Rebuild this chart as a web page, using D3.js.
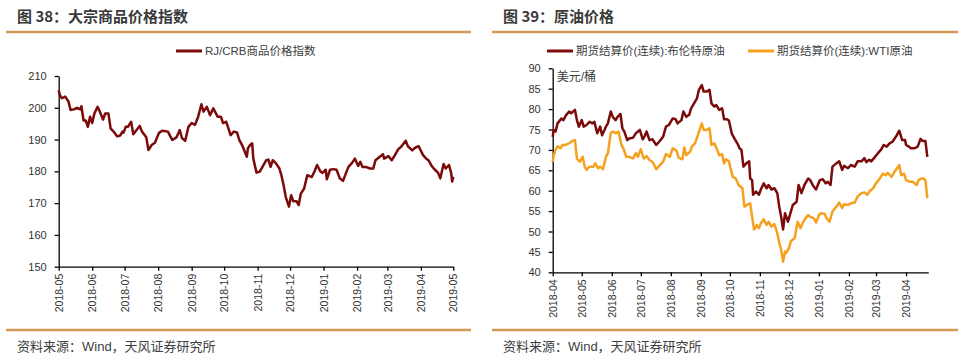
<!DOCTYPE html>
<meta charset="utf-8">
<style>
body { margin: 0; background: #fff; }
svg { display: block; font-family: "Liberation Sans", Arial, "Noto Sans CJK SC", sans-serif; }
.title { font-family: "Noto Sans CJK SC", sans-serif; font-size: 15px; font-weight: bold; fill: #3a3a3a; }
.legend, .unit, .source { font-family: "Liberation Sans", "Noto Sans CJK SC", sans-serif; fill: #404040; }
.axis text { font-size: 10.5px; fill: #333; }
.axis path, .axis line { stroke: #000; stroke-width: 1.3px; }
.rule { stroke: #d49a55; stroke-width: 2.5px; }
</style>
<body>
<svg id="chart" width="968" height="361"></svg>
<script src="https://d3js.org/d3.v7.min.js"></script>
<script>

// ---- 图 38：RJ/CRB 商品价格指数 ----
var crbDates = ["2018-05-01","2018-05-02","2018-05-04","2018-05-07","2018-05-10","2018-05-12","2018-05-15","2018-05-18","2018-05-21","2018-05-22",
  "2018-05-24","2018-05-26","2018-05-28","2018-05-30","2018-06-01","2018-06-03","2018-06-06","2018-06-08","2018-06-11","2018-06-13",
  "2018-06-16","2018-06-18","2018-06-22","2018-06-24","2018-06-27","2018-06-29","2018-06-30","2018-07-02","2018-07-04","2018-07-07",
  "2018-07-09","2018-07-12","2018-07-15","2018-07-17","2018-07-21","2018-07-23","2018-07-26","2018-07-29","2018-07-31","2018-08-02",
  "2018-08-05","2018-08-10","2018-08-14","2018-08-18","2018-08-21","2018-08-23","2018-08-26","2018-08-29","2018-09-01","2018-09-04",
  "2018-09-07","2018-09-10","2018-09-12","2018-09-15","2018-09-18","2018-09-21","2018-09-25","2018-09-28","2018-09-30","2018-10-03",
  "2018-10-07","2018-10-10","2018-10-13","2018-10-15","2018-10-18","2018-10-22","2018-10-23","2018-10-25","2018-10-27","2018-10-28",
  "2018-10-31","2018-11-03","2018-11-06","2018-11-09","2018-11-11","2018-11-13","2018-11-15","2018-11-18","2018-11-21","2018-11-23",
  "2018-11-25","2018-11-27","2018-11-30","2018-12-02","2018-12-04","2018-12-07","2018-12-09","2018-12-11","2018-12-14","2018-12-17",
  "2018-12-21","2018-12-23","2018-12-26","2018-12-29","2018-12-31","2019-01-03","2019-01-04","2019-01-07","2019-01-10","2019-01-13",
  "2019-01-16","2019-01-19","2019-01-21","2019-01-24","2019-01-27","2019-01-30","2019-02-02","2019-02-04","2019-02-06","2019-02-09",
  "2019-02-13","2019-02-16","2019-02-18","2019-02-22","2019-02-25","2019-02-26","2019-03-02","2019-03-05","2019-03-08","2019-03-11",
  "2019-03-14","2019-03-18","2019-03-20","2019-03-24","2019-03-27","2019-03-30","2019-04-03","2019-04-06","2019-04-08","2019-04-11",
  "2019-04-14","2019-04-17","2019-04-19","2019-04-22","2019-04-24","2019-04-27","2019-04-29","2019-04-30","2019-05-01"];
var crbValues = [205.5,204,203,203.5,202,199.3,199.5,200,199.5,200.5,
  196,196,194,197.2,195.2,198.2,200.3,198.8,196.3,198.2,
  198.2,193.5,192,191,191.3,192.5,192.2,194,194,195.6,
  191.7,193,194.3,192.5,190.7,186.7,188.3,189,190.7,192.2,
  192.8,192.5,189.9,190.7,193,190.5,189.6,194,195.2,194.6,
  197.2,201.1,198.8,200.3,197.7,199.8,197.2,197.2,195.2,195.6,
  191.4,192.5,192.2,189.9,188,184.6,187.2,188.3,188.8,184,
  179.6,179.9,181.7,183.5,183.7,181.4,183.5,182.5,181,178.8,
  175.7,172,168.9,172.5,170.6,170.6,169.4,173,174.6,178.8,
  178.2,179.5,182,180,179.5,180.5,177.5,180.5,180.7,180.5,
  177.8,177,178.8,181.4,182.5,184,181.7,183,181.4,181.4,
  180.9,180.9,183.5,184.6,185.4,184,184.8,183.5,185.1,186.9,
  187.8,189.6,187.9,186.6,187.5,187.9,185.1,184,183.5,181.7,
  180.5,179.5,177.8,182.3,180.9,182,179.5,176.8,178.3];
var crbTicks = [150,160,170,180,190,200,210];

// ---- 图 39：原油价格 ----
var brentDates = ["2018-04-01","2018-04-02","2018-04-04","2018-04-06","2018-04-10","2018-04-12","2018-04-15","2018-04-18","2018-04-20","2018-04-24",
  "2018-04-26","2018-04-28","2018-05-01","2018-05-03","2018-05-06","2018-05-09","2018-05-12","2018-05-14","2018-05-17","2018-05-20",
  "2018-05-22","2018-05-26","2018-05-28","2018-05-31","2018-06-02","2018-06-05","2018-06-07","2018-06-10","2018-06-12","2018-06-14",
  "2018-06-17","2018-06-19","2018-06-23","2018-06-26","2018-06-30","2018-07-03","2018-07-05","2018-07-07","2018-07-10","2018-07-13",
  "2018-07-17","2018-07-20","2018-07-24","2018-07-27","2018-07-30","2018-08-03","2018-08-06","2018-08-08","2018-08-12","2018-08-14",
  "2018-08-17","2018-08-20","2018-08-22","2018-08-25","2018-08-28","2018-08-30","2018-09-02","2018-09-04","2018-09-07","2018-09-10",
  "2018-09-12","2018-09-15","2018-09-17","2018-09-20","2018-09-23","2018-09-25","2018-09-28","2018-09-30","2018-10-03","2018-10-06",
  "2018-10-09","2018-10-11","2018-10-13","2018-10-15","2018-10-18","2018-10-21","2018-10-22","2018-10-24","2018-10-25","2018-10-28",
  "2018-10-31","2018-11-02","2018-11-05","2018-11-08","2018-11-10","2018-11-13","2018-11-16","2018-11-19","2018-11-21","2018-11-23",
  "2018-11-25","2018-11-27","2018-11-30","2018-12-02","2018-12-05","2018-12-09","2018-12-11","2018-12-14","2018-12-17","2018-12-21",
  "2018-12-23","2018-12-26","2018-12-29","2019-01-02","2019-01-05","2019-01-08","2019-01-10","2019-01-13","2019-01-15","2019-01-19",
  "2019-01-22","2019-01-25","2019-01-27","2019-01-31","2019-02-03","2019-02-07","2019-02-10","2019-02-14","2019-02-17","2019-02-19",
  "2019-02-22","2019-02-24","2019-02-28","2019-03-03","2019-03-06","2019-03-09","2019-03-12","2019-03-15","2019-03-18","2019-03-22",
  "2019-03-25","2019-03-28","2019-03-31","2019-04-01","2019-04-04","2019-04-06","2019-04-10","2019-04-13","2019-04-16","2019-04-18",
  "2019-04-21","2019-04-23"];
var brentValues = [73.2,74.9,74.5,76.5,77.7,77.3,78.6,79.4,79,79.8,
  77.3,75.7,77.3,75.7,76.1,76.9,76.5,76.9,74.1,75.7,
  73.6,75.7,76.5,79.4,78.1,77.3,78.1,78.8,75.3,74.5,
  72.4,72.8,73,74.1,74.9,72.6,73.4,74.5,72.4,72.6,
  71.2,72,73.2,75.7,76.1,77.7,77.5,76.5,77.3,79.4,
  78.1,78.6,80.2,81.4,82.6,84.7,85.9,84.3,84.3,84.7,
  81.4,80.6,81,79.8,80.2,77.5,77.5,77.2,74,72.7,
  71.5,70.4,70,65.9,66.7,67.2,63,62.6,59,59.8,
  59,60.3,61.8,60.6,61.4,60.3,60.6,59.4,56.1,53.6,
  50.5,54.5,52.4,54,56.5,57.3,61.4,59.4,61.4,63,
  62.6,61.2,60.3,62.6,62.8,61.8,62.2,61.4,65.9,66.7,
  67.2,65.1,66.1,65.5,66.3,65.9,67.2,67.2,68,67,
  67.6,67.2,68.3,69.2,70,71.2,70.8,71.6,72,73.4,
  74.7,72.4,72.4,71.2,70.8,70.4,70.4,70.8,72.7,72.2,
  72.2,68.3];
var wtiDates = ["2018-04-01","2018-04-02","2018-04-04","2018-04-06","2018-04-09","2018-04-11","2018-04-14","2018-04-18","2018-04-21","2018-04-24",
  "2018-04-26","2018-04-29","2018-05-02","2018-05-04","2018-05-06","2018-05-09","2018-05-13","2018-05-15","2018-05-18","2018-05-20",
  "2018-05-23","2018-05-26","2018-05-28","2018-05-31","2018-06-02","2018-06-05","2018-06-08","2018-06-11","2018-06-13","2018-06-16",
  "2018-06-19","2018-06-23","2018-06-26","2018-06-28","2018-07-01","2018-07-04","2018-07-07","2018-07-10","2018-07-13","2018-07-17",
  "2018-07-20","2018-07-24","2018-07-27","2018-07-31","2018-08-03","2018-08-07","2018-08-09","2018-08-13","2018-08-15","2018-08-17",
  "2018-08-21","2018-08-23","2018-08-26","2018-08-29","2018-09-02","2018-09-04","2018-09-07","2018-09-10","2018-09-12","2018-09-15",
  "2018-09-18","2018-09-20","2018-09-23","2018-09-25","2018-09-27","2018-09-30","2018-10-04","2018-10-07","2018-10-10","2018-10-14",
  "2018-10-16","2018-10-20","2018-10-22","2018-10-24","2018-10-26","2018-10-29","2018-10-31","2018-11-02","2018-11-05","2018-11-08",
  "2018-11-10","2018-11-13","2018-11-16","2018-11-19","2018-11-21","2018-11-23","2018-11-25","2018-11-27","2018-11-28","2018-12-01",
  "2018-12-03","2018-12-07","2018-12-10","2018-12-13","2018-12-15","2018-12-18","2018-12-21","2018-12-23","2018-12-27","2018-12-29",
  "2019-01-01","2019-01-03","2019-01-07","2019-01-09","2019-01-12","2019-01-15","2019-01-19","2019-01-22","2019-01-25","2019-01-27",
  "2019-01-31","2019-02-03","2019-02-07","2019-02-10","2019-02-14","2019-02-17","2019-02-20","2019-02-22","2019-02-26","2019-03-01",
  "2019-03-05","2019-03-08","2019-03-11","2019-03-13","2019-03-17","2019-03-20","2019-03-25","2019-03-27","2019-03-30","2019-04-01",
  "2019-04-05","2019-04-08","2019-04-12","2019-04-14","2019-04-17","2019-04-19","2019-04-21","2019-04-23"];
var wtiValues = [67.1,68.7,70,70.9,70.4,71.2,71.2,71.6,72.2,72.4,
  67.9,67.1,68.3,65.9,65.1,65.9,65.9,66.7,65.5,65.9,
  65.3,68.3,69.2,74.1,74.5,74.1,74.5,71.2,70.4,68.3,
  68.3,67.9,69.2,68.3,70.2,67.9,68.5,67.5,67.1,65.3,
  66.1,67.1,69,68.3,70.4,69.8,68.1,67.7,70.6,68.7,
  69.6,70.9,71.6,73.6,76.5,74.9,74.9,75.3,71.2,71.6,
  70,68.7,68.9,66.7,67.7,67.2,63.4,63,61.4,60.6,
  56.1,56.7,56.9,53.6,50.5,51.6,50.8,52,53,51.6,
  52.4,51.2,51.8,49.6,47.3,45.5,42.6,45.1,44.7,45.9,
  47.6,48.4,52.4,50.8,52,53.2,54,53.6,53.2,52.2,
  54,54.5,54.3,53.2,52.4,54.9,56.1,57.1,55.7,56.7,
  56.5,56.9,57.1,58.6,59.4,59.6,59,59.8,60.6,61.8,
  63,64.2,63.8,64.4,63.4,64.6,66.3,63.8,64.2,62.6,
  62.2,62.2,61.4,62.6,63,63,62.6,58.1];
var oilTicks = [40,45,50,55,60,65,70,75,80,85,90];

var parse = d3.timeParse("%Y-%m-%d");
var fmt = d3.timeFormat("%Y-%m");
var svg = d3.select("#chart");

svg.append("rect").attr("width", 968).attr("height", 361).attr("fill", "#fff");

function panel(o) {
  var g = svg.append("g");

  g.append("text").attr("class", "title")
    .attr("x", o.left + 11).attr("y", 22).text(o.title);
  g.append("line").attr("class", "rule")
    .attr("x1", o.left).attr("x2", o.right).attr("y1", 32).attr("y2", 32);
  g.append("line").attr("class", "rule")
    .attr("x1", o.left).attr("x2", o.right).attr("y1", 330).attr("y2", 330);
  g.append("text").attr("class", "source")
    .attr("x", o.left + 11).attr("y", 351).style("font-size", "13px")
    .text("资料来源：Wind，天风证券研究所");

  var x = d3.scaleTime().domain(o.xDomain.map(parse)).range([o.x0, o.x1]);
  var y = d3.scaleLinear().domain([o.yTicks[0], o.yTicks[o.yTicks.length - 1]]).range([o.y0, o.y1]);

  var xTicks = d3.timeMonth.range(parse(o.xDomain[0]), d3.timeDay.offset(parse(o.xDomain[1]), 1));

  var gx = g.append("g").attr("class", "axis")
    .attr("transform", "translate(0," + o.y0 + ")")
    .call(d3.axisBottom(x).tickValues(xTicks).tickFormat(fmt).tickSize(4).tickSizeOuter(0));
  gx.selectAll("text")
    .attr("transform", "rotate(-90)")
    .attr("text-anchor", "end")
    .attr("x", -7).attr("y", 0).attr("dy", "0.35em");

  g.append("g").attr("class", "axis")
    .attr("transform", "translate(" + o.x0 + ",0)")
    .call(d3.axisLeft(y).tickValues(o.yTicks).tickSize(4).tickSizeOuter(0).tickPadding(8))
    .selectAll("text").style("font-size", "11px");

  var line = d3.line().x(d => x(d[0])).y(d => y(d[1]));

  o.series.forEach(function (s, i) {
    var pts = s.dates.map((d, k) => [parse(d), s.values[k]]);
    g.append("path").datum(pts)
      .attr("d", line)
      .attr("fill", "none")
      .attr("stroke", s.color)
      .attr("stroke-width", 2.5)
      .attr("stroke-linejoin", "round");

    var lx = o.legendX[i];
    g.append("line").attr("x1", lx).attr("x2", lx + 26).attr("y1", 51).attr("y2", 51)
      .attr("stroke", s.color).attr("stroke-width", 3);
    g.append("text").attr("class", "legend").attr("x", lx + 29).attr("y", 55)
      .style("font-size", "11.5px").text(s.name);
  });

  if (o.unit) {
    g.append("text").attr("class", "unit").attr("x", o.x0 + 4).attr("y", 81)
      .style("font-size", "12px").text(o.unit);
  }
}

panel({
  title: "图 38：大宗商品价格指数",
  left: 6, right: 471,
  x0: 58.7, x1: 453.3, y0: 266.7, y1: 76,
  xDomain: ["2018-05-01", "2019-05-01"],
  yTicks: crbTicks,
  legendX: [176],
  series: [{ name: "RJ/CRB商品价格指数", dates: crbDates, values: crbValues, color: "#7b0a0a" }]
});

panel({
  title: "图 39：原油价格",
  left: 492, right: 958,
  x0: 552.7, x1: 928.3, y0: 272.3, y1: 68.3,
  xDomain: ["2018-04-01", "2019-04-24"],
  yTicks: oilTicks,
  legendX: [547, 748],
  unit: "美元/桶",
  series: [
    { name: "期货结算价(连续):布伦特原油", dates: brentDates, values: brentValues, color: "#7b0a0a" },
    { name: "期货结算价(连续):WTI原油", dates: wtiDates, values: wtiValues, color: "#f5a11f" }
  ]
});

</script>
</body>
